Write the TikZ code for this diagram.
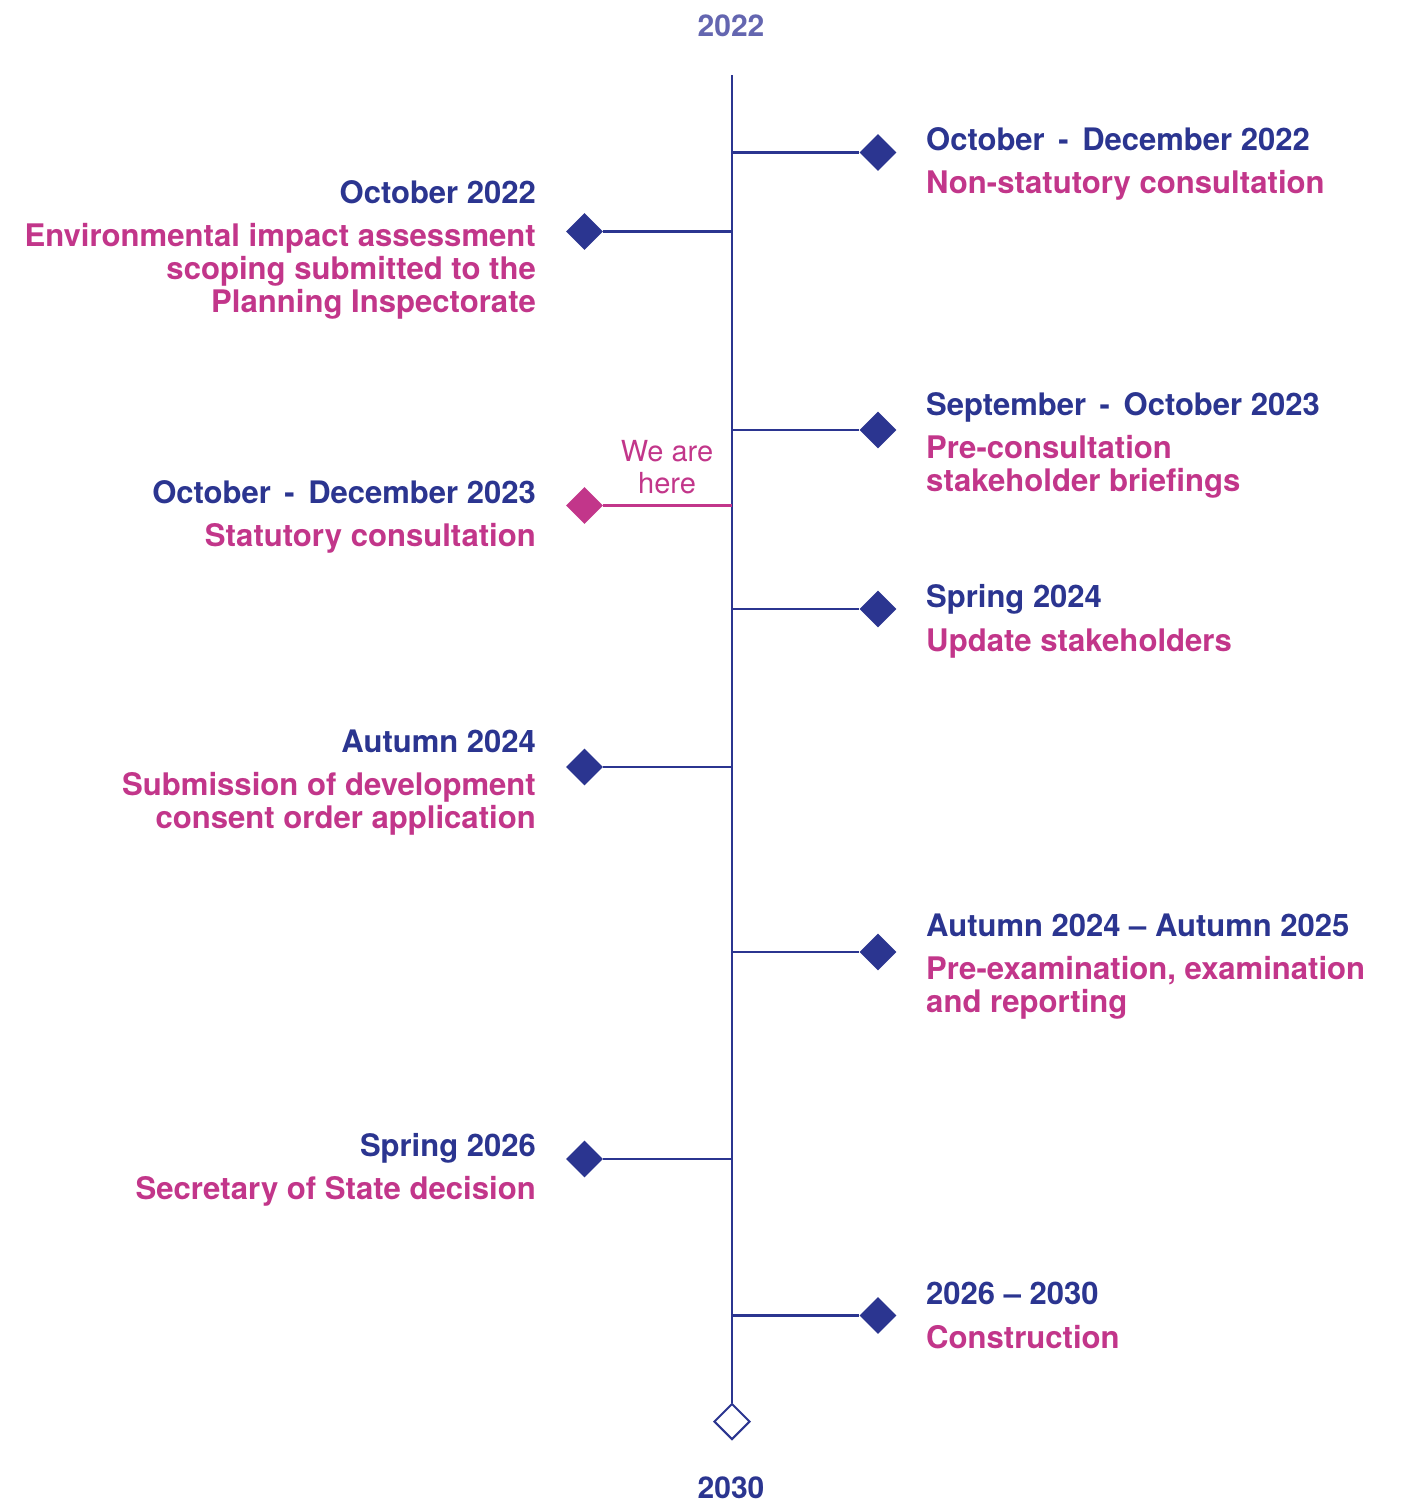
\documentclass[tikz,border=0pt]{standalone}
\usepackage{fontspec}
\setmainfont{TeX Gyre Heros}
\usetikzlibrary{shapes.geometric}
\definecolor{navy}{HTML}{2B3590}
\definecolor{mag}{HTML}{C2368A}
\definecolor{lav}{HTML}{6466B0}
\newcommand{\dsh}{\ \hspace{5pt}-\hspace{5pt}\ }
\begin{document}
\begin{tikzpicture}[x=1pt,y=-1pt,
  datelbl/.style={font=\fontsize{31}{33}\selectfont\bfseries, text=navy, inner sep=0},
  desclbl/.style={font=\fontsize{31.1}{33}\selectfont\bfseries, text=mag, inner sep=0},
  dm/.style={diamond, aspect=1, minimum size=37, inner sep=0, fill=navy},
  conn/.style={draw=navy, line width=2.4},
  year/.style={font=\fontsize{30}{33}\selectfont\bfseries, inner sep=0, anchor=base}]
\useasboundingbox (0,0) rectangle (1407,1504);
% years
\node[year, text=lav] (y22) at (731,37) {2022};
\node[year, text=navy] (y30) at (731,1498) {2030};
% axis
\coordinate (top) at (732,75);
\node[diamond, aspect=1, minimum size=36, inner sep=0, draw=navy, line width=2, fill=white] (end) at (732,1421.5) {};
\draw[conn] (top) -- (end.north);
% right side items
\foreach \i/\y in {1/152.5, 2/430, 3/609, 4/952, 5/1315.5}{
  \coordinate (ar\i) at (732,\y);
  \node[dm] (dr\i) at (878,\y) {};
  \draw[conn] (ar\i) -- (dr\i.west);
}
% left side items
\foreach \i/\y in {1/231.5, 3/767, 4/1159}{
  \coordinate (al\i) at (732,\y);
  \node[dm] (dl\i) at (584.5,\y) {};
  \draw[conn] (al\i) -- (dl\i.east);
}
\coordinate (al2) at (732,505.5);
\node[dm, fill=mag] (dl2) at (584.5,505.5) {};
\draw[draw=mag, line width=2.4] (al2) -- (dl2.east);
\node[font=\fontsize{29}{32}\selectfont, text=mag, inner sep=0, align=center, anchor=base] (here) at (667,493) {We are\\here};
% right labels
\node[datelbl, anchor=base west] (rd1) at (926,150) {October\dsh December 2022};
\node[desclbl, anchor=base west] (rt1) at (926,193) {Non-statutory consultation};
\node[datelbl, anchor=base west] (rd2) at (926,415) {September\dsh October 2023};
\node[desclbl, anchor=base west, align=left] (rt2) at (926,491) {Pre-consultation\\stakeholder briefings};
\node[datelbl, anchor=base west] (rd3) at (926,607) {Spring 2024};
\node[desclbl, anchor=base west] (rt3) at (926,651) {Update stakeholders};
\node[datelbl, anchor=base west] (rd4) at (926,936) {Autumn 2024 – Autumn 2025};
\node[desclbl, anchor=base west, align=left] (rt4) at (926,1012) {Pre-examination, examination\\and reporting};
\node[datelbl, anchor=base west] (rd5) at (926,1304) {2026 – 2030};
\node[desclbl, anchor=base west] (rt5) at (926,1348) {Construction};
% left labels
\node[datelbl, anchor=base east] (ld1) at (536,203) {October 2022};
\node[desclbl, anchor=base east, align=right] (lt1) at (536,312) {Environmental impact assessment\\scoping submitted to the\\Planning Inspectorate};
\node[datelbl, anchor=base east] (ld2) at (536,503) {October\dsh December 2023};
\node[desclbl, anchor=base east] (lt2) at (536,546) {Statutory consultation};
\node[datelbl, anchor=base east] (ld3) at (536,752) {Autumn 2024};
\node[desclbl, anchor=base east, align=right] (lt3) at (536,828) {Submission of development\\consent order application};
\node[datelbl, anchor=base east] (ld4) at (536,1156) {Spring 2026};
\node[desclbl, anchor=base east] (lt4) at (536,1199) {Secretary of State decision};
\end{tikzpicture}
\end{document}
